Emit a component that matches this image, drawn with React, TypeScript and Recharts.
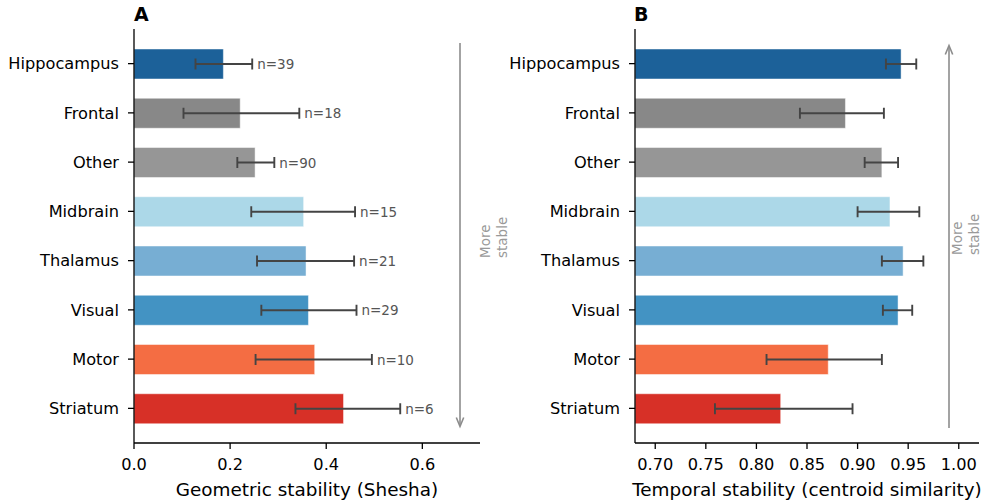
import { Bar, BarChart, Cell, ErrorBar, LabelList, XAxis, YAxis } from "recharts";

const regions = ["Hippocampus", "Frontal", "Other", "Midbrain", "Thalamus", "Visual", "Motor", "Striatum"];
const regionColors = ["#1c6199", "#888888", "#969696", "#acd8e8", "#77aed3", "#4393c3", "#f46d43", "#d73027"];
const regionN = [39, 18, 90, 15, 21, 29, 10, 6];

const sheshaMean = [0.186, 0.221, 0.252, 0.353, 0.358, 0.363, 0.376, 0.436];
const sheshaLow = [0.128, 0.103, 0.215, 0.244, 0.256, 0.265, 0.253, 0.336];
const sheshaHigh = [0.246, 0.344, 0.292, 0.46, 0.458, 0.463, 0.495, 0.554];

const temporalMean = [0.943, 0.888, 0.924, 0.932, 0.945, 0.94, 0.871, 0.824];
const temporalLow = [0.928, 0.843, 0.907, 0.9, 0.924, 0.925, 0.81, 0.759];
const temporalHigh = [0.958, 0.926, 0.94, 0.961, 0.965, 0.954, 0.924, 0.895];

const sheshaTicks = [0, 0.2, 0.4, 0.6];
const temporalTicks = [0.7, 0.75, 0.8, 0.85, 0.9, 0.95, 1.0];

const FONT = "'DejaVu Sans', sans-serif";

type Row = { region: string; value: number; err: [number, number]; hi: number; n: number };

function buildRows(mean: number[], low: number[], high: number[]): Row[] {
  return regions.map((region, i) => ({
    region,
    value: mean[i],
    err: [mean[i] - low[i], high[i] - mean[i]],
    hi: high[i],
    n: regionN[i]
  }));
}

const sheshaRows = buildRows(sheshaMean, sheshaLow, sheshaHigh);
const temporalRows = buildRows(temporalMean, temporalLow, temporalHigh);

function StabilityPanel({
  rows,
  domain,
  ticks,
  digits,
  label,
  axisWidth,
  rightMargin,
  showN
}: {
  rows: Row[];
  domain: [number, number];
  ticks: number[];
  digits: number;
  label: string;
  axisWidth: number;
  rightMargin: number;
  showN: boolean;
}) {
  // n= labels sit just right of the upper error cap
  const renderN = (props: any) => {
    const { x, y, width, height, index } = props;
    const row = rows[index];
    const capX = x + (width * row.hi) / row.value;
    return (
      <text
        x={capX + 5}
        y={y + height / 2}
        dominantBaseline="central"
        fill="#555"
        fontSize={13.5}
        fontFamily={FONT}
      >
        {`n=${row.n}`}
      </text>
    );
  };

  return (
    <BarChart
      width={494}
      height={504}
      data={rows}
      layout="vertical"
      margin={{ top: 29, right: rightMargin, bottom: 0, left: 0 }}
    >
      <XAxis
        type="number"
        domain={domain}
        ticks={ticks}
        allowDataOverflow
        height={61}
        tickFormatter={(v: number) => v.toFixed(digits)}
        tick={{ fill: "#000", fontSize: 16.2, fontFamily: FONT }}
        axisLine={{ stroke: "#000", strokeWidth: 1.3 }}
        tickLine={{ stroke: "#000", strokeWidth: 1.3 }}
        tickSize={6}
        tickMargin={9}
        label={{
          content: (p: any) => {
            const vb = p.viewBox;
            return (
              <text
                x={vb.x + vb.width / 2}
                y={vb.y + 53}
                textAnchor="middle"
                fill="#000"
                fontSize={18.4}
                fontFamily={FONT}
              >
                {label}
              </text>
            );
          }
        }}
      />
      <YAxis
        type="category"
        dataKey="region"
        width={axisWidth}
        padding={{ top: 10, bottom: 10 }}
        tick={{ fill: "#000", fontSize: 16.2, fontFamily: FONT }}
        axisLine={{ stroke: "#000", strokeWidth: 1.3 }}
        tickLine={{ stroke: "#000", strokeWidth: 1.3 }}
        tickSize={6}
        tickMargin={9}
      />
      <Bar dataKey="value" barSize={30} isAnimationActive={false} stroke="#fff" strokeWidth={0.8} strokeOpacity={0.6}>
        {rows.map((r, i) => (
          <Cell key={r.region} fill={regionColors[i]} />
        ))}
        <ErrorBar dataKey="err" direction="x" width={5.5} stroke="#444" strokeWidth={1.9} />
        {showN && <LabelList dataKey="n" content={renderN} />}
      </Bar>
    </BarChart>
  );
}

function Annotations() {
  const grey = "#8c8c8c";
  const noteStyle = { fill: "#999", fontSize: 13.5, fontFamily: FONT } as const;
  return (
    <svg width={988} height={504} style={{ position: "absolute", left: 0, top: 0, pointerEvents: "none" }}>
      <text x={134} y={21} fontSize={19} fontWeight="bold" fontFamily={FONT} fill="#000">
        A
      </text>
      <text x={634} y={21} fontSize={19} fontWeight="bold" fontFamily={FONT} fill="#000">
        B
      </text>

      <line x1={460} y1={43} x2={460} y2={426} stroke={grey} strokeWidth={1.6} />
      <polyline points="456.3,417.5 460,426.5 463.7,417.5" fill="none" stroke={grey} strokeWidth={1.6} />
      <text x={490} y={258} transform="rotate(-90 490 258)" {...noteStyle}>
        More
      </text>
      <text x={507} y={258} transform="rotate(-90 507 258)" {...noteStyle}>
        stable
      </text>

      <line x1={949} y1={46} x2={949} y2={428} stroke={grey} strokeWidth={1.6} />
      <polyline points="945.3,54.5 949,45.5 952.7,54.5" fill="none" stroke={grey} strokeWidth={1.6} />
      <text x={962} y={255} transform="rotate(-90 962 255)" {...noteStyle}>
        More
      </text>
      <text x={979} y={255} transform="rotate(-90 979 255)" {...noteStyle}>
        stable
      </text>
    </svg>
  );
}

export default function App() {
  return (
    <div style={{ position: "absolute", left: 0, top: 0, width: 988, height: 504, background: "#fff" }}>
      <div style={{ position: "absolute", left: 0, top: 0 }}>
        <StabilityPanel
          rows={sheshaRows}
          domain={[0, 0.72]}
          ticks={sheshaTicks}
          digits={1}
          label="Geometric stability (Shesha)"
          axisWidth={134}
          rightMargin={14}
          showN
        />
      </div>
      <div style={{ position: "absolute", left: 494, top: 0 }}>
        <StabilityPanel
          rows={temporalRows}
          domain={[0.68, 1.02]}
          ticks={temporalTicks}
          digits={2}
          label="Temporal stability (centroid similarity)"
          axisWidth={141}
          rightMargin={9}
          showN={false}
        />
      </div>
      <Annotations />
    </div>
  );
}
